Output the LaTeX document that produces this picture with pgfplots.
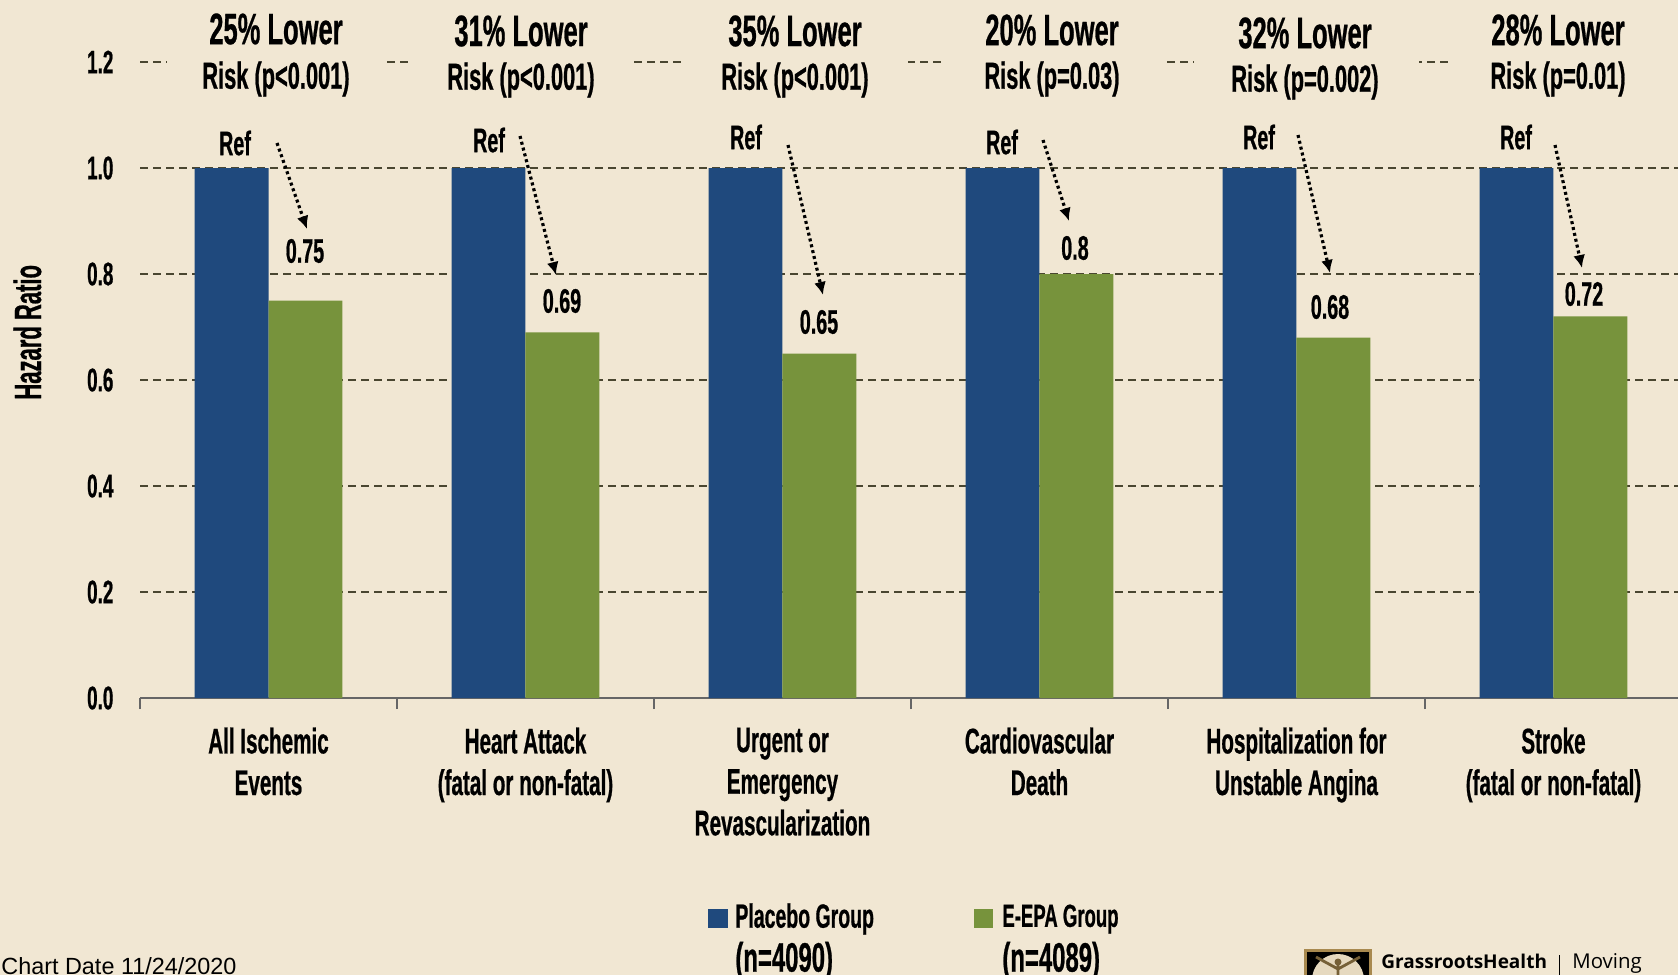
\documentclass[border=0pt]{standalone}
\usepackage{pgfplots}
\pgfplotsset{compat=1.18}
\usetikzlibrary{arrows.meta}
\usepackage{fontspec}
\setmainfont[FakeStretch=0.58,FakeBold=0.6]{Liberation Sans Bold}
\newfontfamily\plainfont{Liberation Sans}
\newfontfamily\logofont{Open Sans}
\newfontfamily\logobold{Open Sans Bold}
\definecolor{bgc}{HTML}{F1E7D3}
\definecolor{bluec}{HTML}{1F497D}
\definecolor{greenc}{HTML}{77933C}
\definecolor{gridc}{HTML}{4A4630}
\definecolor{goldc}{HTML}{A8894F}
\pgfplotstableread{
x placebo epa
0 1.0 0.75
1 1.0 0.69
2 1.0 0.65
3 1.0 0.80
4 1.0 0.68
5 1.0 0.72
}\hrdata
\newcommand{\bigT}[3]{\node[font=\fontsize{22}{24}\selectfont, yshift=0.5pt] at (#1,#2) {#3};}
\newcommand{\midT}[3]{\node[font=\fontsize{18.8}{20}\selectfont] at (#1,#2) {#3};}
\newcommand{\lblT}[3]{\node[font=\fontsize{17}{18}\selectfont, yshift=0.5pt] at (#1,#2) {#3};}
\begin{document}
\begin{tikzpicture}[x=0.5pt,y=-0.5pt]
\useasboundingbox (0,0) rectangle (1678,975);
\clip (0,0) rectangle (1678,975);
\fill[bgc] (0,0) rectangle (1678,975);
\begin{axis}[
  at={(70pt,-349pt)}, anchor=south west, scale only axis,
  width=771pt, height=318pt,
  xmin=-0.5, xmax=5.5, ymin=0, ymax=1.2,
  axis y line*=left, axis x line*=bottom,
  y axis line style={draw=none},
  x axis line style={draw=gray!80!black, line width=0.6pt},
  xtick={0,1,2,3,4,5},
  xticklabels={{All Ischemic\\Events},{Heart Attack\\(fatal or non-fatal)},{Urgent or\\Emergency\\Revascularization},{Cardiovascular\\Death},{Hospitalization for\\Unstable Angina},{Stroke\\(fatal or non-fatal)}},
  minor xtick={-0.5,0.5,1.5,2.5,3.5,4.5,5.5},
  major x tick style={draw=none},
  minor x tick style={draw=gray!80!black, line width=0.6pt},
  minor tick length=5.5pt,
  xticklabel style={align=center, font=\fontsize{17.8}{20.8}\selectfont, yshift=-7pt},
  ytick={0,0.2,0.4,0.6,0.8,1.0,1.2},
  yticklabel style={/pgf/number format/fixed, /pgf/number format/fixed zerofill, /pgf/number format/precision=1, /pgf/number format/assume math mode=true, font=\fontsize{16.3}{18}\selectfont, xshift=-5.5pt},
  y tick style={draw=none},
  ymajorgrids, grid style={dash pattern=on 4pt off 2.5pt, gridc, line width=0.6pt},
  ylabel={Hazard Ratio},
  every axis y label/.style={at={(axis description cs:-0.073,0.575)}, rotate=90, anchor=center, font=\fontsize{19}{20}\selectfont},
  tick align=outside,
  clip=false,
]
\addplot[ybar, bar width=0.2875, bar shift=-0.14375, fill=bluec, draw=none] table[x=x,y=placebo] {\hrdata};
\addplot[ybar, bar width=0.2875, bar shift=0.14375, fill=greenc, draw=none] table[x=x,y=epa] {\hrdata};
\end{axis}
% cover the 1.2 gridline behind the headings
\fill[bgc] (167,40) rectangle (386,85);
\fill[bgc] (412,40) rectangle (631,85);
\fill[bgc] (682,40) rectangle (908,85);
\fill[bgc] (944,40) rectangle (1163,85);
\fill[bgc] (1194,40) rectangle (1419,85);
\fill[bgc] (1450,40) rectangle (1678,85);
% headings
\bigT{276}{30}{25\% Lower}\midT{276}{79}{Risk (p<0.001)}
\bigT{521}{32}{31\% Lower}\midT{521}{80}{Risk (p<0.001)}
\bigT{795}{32}{35\% Lower}\midT{795}{80}{Risk (p<0.001)}
\bigT{1052}{31}{20\% Lower}\midT{1052}{79}{Risk (p=0.03)}
\bigT{1305}{34}{32\% Lower}\midT{1305}{82}{Risk (p=0.002)}
\bigT{1558}{31}{28\% Lower}\midT{1558}{79}{Risk (p=0.01)}
% Ref
\lblT{235}{144}{Ref}\lblT{489}{141}{Ref}\lblT{746}{138}{Ref}\lblT{1002}{143}{Ref}\lblT{1259}{138}{Ref}\lblT{1516}{138}{Ref}
% values
\lblT{305}{252}{0.75}\lblT{562}{302}{0.69}\lblT{819}{323}{0.65}\lblT{1075}{249}{0.8}\lblT{1330}{308}{0.68}\lblT{1584}{295}{0.72}
% arrows
\foreach \a/\b/\c/\d in {277/143/307/229, 520/136/556/275, 788/145/823/295, 1043/140/1069/221, 1298/135/1330/273, 1555/145/1582/268}
  \draw[dash pattern=on 1.5pt off 1.5pt, line width=1.6pt, -{Latex[length=6.5pt,width=6pt]}] (\a,\b) -- (\c,\d);
% legend
\fill[bluec] (708,909) rectangle (728,928);
\fill[greenc] (974,909) rectangle (993,928);
\node[font=\fontsize{16.8}{20.8}\selectfont, anchor=west, inner sep=0pt] at (735,919) {Placebo Group};
\node[font=\fontsize{20.6}{20.8}\selectfont, anchor=west, inner sep=0pt] at (735,961) {(n=4090)};
\node[font=\fontsize{16}{20.8}\selectfont, anchor=west, inner sep=0pt] at (1002,919) {E-EPA Group};
\node[font=\fontsize{20.6}{20.8}\selectfont, anchor=west, inner sep=0pt] at (1002,961) {(n=4089)};
% footer
\node[font=\plainfont\fontsize{11.7}{12}\selectfont, anchor=base west, inner sep=0pt] at (1,974) {Chart Date 11/24/2020};
% logo
\fill[goldc] (1304,949) rectangle (1372,985);
\fill[black] (1307,952) rectangle (1369,985);
\fill[bgc!85!goldc] (1338,980) ellipse (26 and 26);
\draw[goldc!70!black, line width=1.4pt] (1316,957) -- (1338,969) -- (1360,957) (1338,965) -- (1338,985);
\fill[goldc!70!black] (1338,962) circle (3.5);
\node[font=\logobold\fontsize{9.5}{12}\selectfont, anchor=base west, inner sep=0pt] at (1381,968) {GrassrootsHealth};
\draw[black, line width=0.5pt] (1559,955) -- (1559,975);
\node[font=\logofont\fontsize{10.2}{12}\selectfont, anchor=base west, inner sep=0pt] at (1572,968) {Moving};
\end{tikzpicture}
\end{document}
